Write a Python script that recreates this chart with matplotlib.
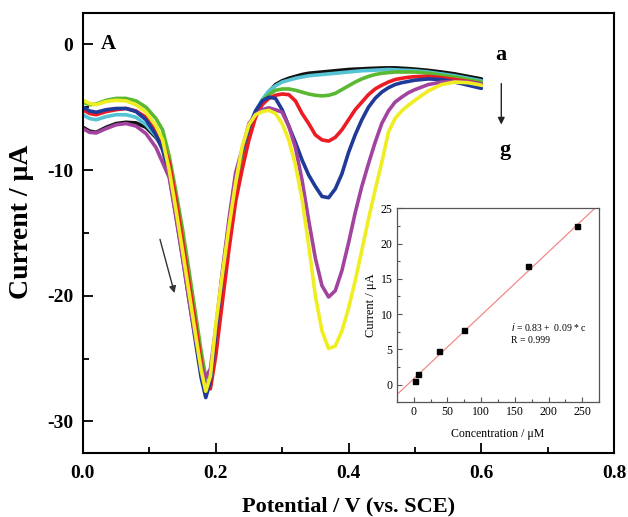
import matplotlib
matplotlib.use("Agg")
import matplotlib.pyplot as plt
from matplotlib.ticker import MultipleLocator

plt.rcParams["axes.unicode_minus"] = False

# Potential grid shared by all DPV curves (V vs. SCE)
potential = [0.000, 0.010, 0.020, 0.035, 0.050, 0.065, 0.080, 0.095, 0.110, 0.120,
             0.130, 0.140, 0.150, 0.160, 0.170, 0.178, 0.185, 0.192, 0.200, 0.210,
             0.220, 0.230, 0.240, 0.250, 0.260, 0.270, 0.280, 0.290, 0.300, 0.310,
             0.320, 0.330, 0.340, 0.350, 0.360, 0.370, 0.380, 0.390, 0.400, 0.410,
             0.420, 0.430, 0.440, 0.450, 0.460, 0.470, 0.480, 0.490, 0.500, 0.520,
             0.540, 0.560, 0.580, 0.600]

# Currents (uA), curves a -> g
cur_a = [-6.6, -6.9, -7.0, -6.6, -6.3, -6.2, -6.25, -6.6, -7.4, -8.2,
         -9.4, -12.2, -15.3, -18.7, -22.1, -24.8, -26.9, -26.6, -23.8, -19.5,
         -15.3, -11.6, -9.0, -6.8, -5.6, -4.6, -3.8, -3.2, -2.9, -2.7,
         -2.55, -2.4, -2.3, -2.25, -2.2, -2.15, -2.1, -2.05, -2.0, -1.97,
         -1.95, -1.92, -1.9, -1.88, -1.87, -1.87, -1.9, -1.93, -1.97, -2.07,
         -2.2, -2.35, -2.55, -2.75]
cur_b = [-5.6, -5.9, -6.0, -5.75, -5.6, -5.6, -5.8, -6.4, -7.3, -8.3,
         -9.8, -12.7, -15.9, -19.3, -22.7, -25.3, -27.0, -26.4, -23.6, -19.2,
         -15.0, -11.3, -8.8, -6.6, -5.3, -4.4, -3.7, -3.3, -3.0, -2.85,
         -2.7, -2.6, -2.5, -2.45, -2.4, -2.35, -2.3, -2.25, -2.2, -2.15,
         -2.1, -2.08, -2.05, -2.03, -2.0, -2.02, -2.05, -2.07, -2.1, -2.2,
         -2.35, -2.5, -2.7, -2.9]
cur_c = [-4.6, -4.8, -4.75, -4.45, -4.3, -4.3, -4.5, -5.0, -5.9, -6.8,
         -8.9, -11.7, -14.7, -18.1, -21.6, -24.4, -26.5, -26.2, -23.4, -18.9,
         -14.7, -11.0, -8.7, -6.8, -5.5, -4.5, -4.0, -3.65, -3.55, -3.55,
         -3.65, -3.8, -3.95, -4.05, -4.1, -4.05, -3.9, -3.6, -3.3, -3.0,
         -2.75, -2.55, -2.4, -2.3, -2.25, -2.2, -2.2, -2.2, -2.2, -2.3,
         -2.45, -2.6, -2.8, -3.0]
cur_d = [-5.2, -5.5, -5.6, -5.35, -5.2, -5.1, -5.3, -5.8, -6.8, -7.8,
         -9.4, -12.3, -15.6, -19.0, -22.4, -25.2, -27.3, -27.4, -24.8, -20.5,
         -16.3, -12.5, -9.9, -7.6, -5.8, -4.8, -4.3, -4.05, -3.95, -4.0,
         -4.5, -5.5, -6.3, -7.2, -7.6, -7.7, -7.4, -6.8, -6.0, -5.2,
         -4.6, -4.0, -3.55, -3.25, -3.0, -2.8, -2.7, -2.62, -2.57, -2.55,
         -2.65, -2.8, -2.95, -3.15]
cur_e = [-5.0, -5.3, -5.4, -5.2, -5.1, -5.1, -5.35, -6.0, -7.2, -8.4,
         -10.4, -13.6, -16.9, -20.4, -23.8, -26.5, -28.1, -26.8, -23.0, -18.4,
         -14.2, -10.5, -8.5, -6.6, -5.3, -4.5, -4.2, -4.3, -5.2, -6.5,
         -7.8, -9.2, -10.4, -11.3, -12.1, -12.2, -11.5, -10.3, -8.6, -7.2,
         -6.0, -5.0, -4.3, -3.8, -3.45, -3.2, -3.05, -2.95, -2.85, -2.75,
         -2.8, -3.0, -3.25, -3.5]
cur_f = [-6.7, -7.0, -7.05, -6.7, -6.4, -6.3, -6.5, -7.1, -8.2, -9.4,
         -10.6, -13.7, -17.0, -20.4, -23.5, -25.6, -26.5, -25.8, -22.6, -18.1,
         -13.9, -10.2, -8.3, -6.3, -5.6, -5.2, -5.05, -5.2, -5.4, -6.5,
         -8.2, -10.8, -14.0, -17.0, -19.2, -20.1, -19.6, -18.0, -15.8, -13.4,
         -11.3, -9.5, -7.8, -6.3, -5.3, -4.6, -4.2, -3.85, -3.6, -3.2,
         -3.0, -2.95, -3.0, -3.15]
cur_g = [-4.45, -4.7, -4.8, -4.55, -4.45, -4.5, -4.8, -5.4, -6.5, -7.6,
         -10.0, -13.1, -16.4, -19.8, -23.2, -25.9, -27.6, -26.4, -22.3, -18.3,
         -14.5, -11.0, -8.1, -6.4, -5.6, -5.35, -5.25, -5.5, -6.3, -7.6,
         -9.6, -12.3, -16.0, -20.0, -22.8, -24.2, -24.0, -22.8, -21.0, -18.8,
         -16.4, -13.9, -11.6, -9.4, -7.0, -5.9, -5.3, -4.85, -4.45, -3.7,
         -3.2, -3.0, -3.05, -3.25]

curve_colors = ["#111111", "#55c3d4", "#5bb833", "#ec1c24", "#1f3a99", "#a2449f", "#f0ee22"]

# Calibration data (inset)
conc_uM = [2, 7, 38, 74, 170, 242]
peak_uA = [0.45, 1.5, 4.7, 7.8, 16.8, 22.5]
fit_intercept = 0.83
fit_slope = 0.09

fig = plt.figure(figsize=(6.28, 5.17), dpi=100)
ax = fig.add_axes([0.132, 0.124, 0.846, 0.851])

for cur, col in zip([cur_a, cur_b, cur_c, cur_d, cur_e, cur_f, cur_g], curve_colors):
    ax.plot(potential, cur, color=col, lw=2.6, solid_joinstyle="round",
            solid_capstyle="round")

ax.set_xlim(0, 0.8)
ax.set_ylim(-32.5, 2.5)
ax.xaxis.set_major_locator(MultipleLocator(0.2))
ax.xaxis.set_minor_locator(MultipleLocator(0.1))
ax.yaxis.set_major_locator(MultipleLocator(10))
ax.yaxis.set_minor_locator(MultipleLocator(5))
ax.tick_params(which="both", direction="in", width=1.3)
ax.tick_params(which="major", length=7)
ax.tick_params(which="minor", length=4)
for sp in ax.spines.values():
    sp.set_linewidth(1.5)

serif = "Liberation Serif"
ax.set_xticks([0.0, 0.2, 0.4, 0.6, 0.8])
ax.set_xticklabels(["0.0", "0.2", "0.4", "0.6", "0.8"])
for lab in ax.get_xticklabels() + ax.get_yticklabels():
    lab.set_fontfamily(serif)
    lab.set_fontweight("bold")
    lab.set_fontsize(14)
ax.tick_params(axis="x", pad=9)
ax.tick_params(axis="y", pad=7)
ax.set_xlabel("Potential / V (vs. SCE)", fontfamily=serif, fontweight="bold",
              fontsize=16)
ax.xaxis.set_label_coords(0.5, -0.1)
ax.set_ylabel("Current / \u03bcA", fontfamily=serif, fontweight="bold",
              fontsize=20)
ax.yaxis.set_label_coords(-0.092, 0.525)

ax.text(0.038, 0.05, "A", fontfamily=serif, fontweight="bold", fontsize=15,
        ha="center", va="center")
ax.text(0.630, -0.87, "a", fontfamily=serif, fontweight="bold", fontsize=16,
        ha="center", va="center")
ax.text(0.636, -8.4, "g", fontfamily=serif, fontweight="bold", fontsize=16,
        ha="center", va="center")
ax.annotate("", xy=(0.630, -6.6), xytext=(0.630, -2.9),
            arrowprops=dict(arrowstyle="-|>", color="#222222", lw=1.0,
                            mutation_scale=10))
ax.annotate("", xy=(0.139, -20.0), xytext=(0.115, -15.3),
            arrowprops=dict(arrowstyle="-|>", color="#333333", lw=1.0,
                            mutation_scale=10))

# Inset: calibration plot
ins = fig.add_axes([0.632, 0.222, 0.322, 0.375])
ins.plot([-25, 275], [fit_intercept + fit_slope * c for c in (-25, 275)],
         color="#f08a8a", lw=0.9)
ins.plot(conc_uM, peak_uA, "s", color="black", ms=3.6)
ins.set_xlim(-25, 275)
ins.set_ylim(-2.5, 25)
ins.xaxis.set_major_locator(MultipleLocator(50))
ins.xaxis.set_minor_locator(MultipleLocator(25))
ins.yaxis.set_major_locator(MultipleLocator(5))
ins.yaxis.set_minor_locator(MultipleLocator(2.5))
ins.tick_params(which="both", direction="in", width=0.8, color="#555555",
                labelsize=8.5, pad=3)
ins.tick_params(which="major", length=3.5)
ins.tick_params(which="minor", length=2)
for lab in ins.get_xticklabels() + ins.get_yticklabels():
    lab.set_fontfamily(serif)
for sp in ins.spines.values():
    sp.set_linewidth(0.9)
    sp.set_color("#555555")
ins.set_xlabel("Concentration / \u03bcM", fontfamily=serif, fontsize=8.5, labelpad=7)
ins.set_ylabel("Current / \u03bcA", fontfamily=serif, fontsize=9, labelpad=3)
ins.text(145, 8.2, "$\\it{i}$ = 0.83 +  0.09 * c", fontfamily=serif, fontsize=7,
         va="center")
ins.text(145, 6.2, "R = 0.999", fontfamily=serif, fontsize=7, va="center")

fig.savefig("out.png", dpi=100)
